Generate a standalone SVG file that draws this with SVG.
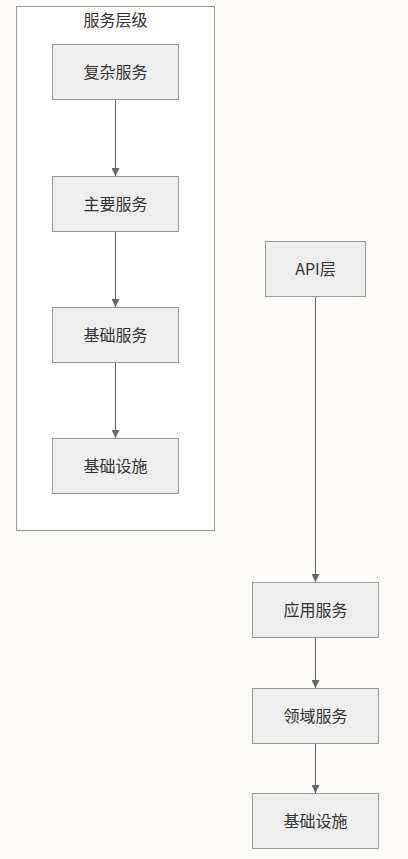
<svg xmlns="http://www.w3.org/2000/svg" width="408" height="859" viewBox="0 0 408 859">
<style>
.bg{fill:#fdfcf8}
.cluster{fill:#ffffff;stroke:#999999;stroke-width:1}
.node rect{fill:#eeeeee;stroke:#999999;stroke-width:1}
text{font-family:"Noto Sans CJK SC","Noto Sans",sans-serif;font-size:16px;fill:#333333;text-anchor:middle;dominant-baseline:central}
.edge{stroke:#666666;stroke-width:1;fill:none}
</style>
<defs>
<marker id="arrow" viewBox="0 0 10 10" refX="10" refY="5" markerWidth="8" markerHeight="8" markerUnits="userSpaceOnUse" orient="auto">
<path d="M0,0 L10,5 L0,10 z" fill="#666666"/>
</marker>
</defs>
<rect class="bg" x="0" y="0" width="408" height="859"/>
<g id="cluster-service">
<rect class="cluster" x="16.5" y="6.5" width="198" height="524"/>
<text x="115.5" y="18.5">服务层级</text>
</g>
<g id="connectors">
<line class="edge" x1="115.5" y1="99" x2="115.5" y2="176" marker-end="url(#arrow)"/>
<line class="edge" x1="115.5" y1="231" x2="115.5" y2="307" marker-end="url(#arrow)"/>
<line class="edge" x1="115.5" y1="362" x2="115.5" y2="438" marker-end="url(#arrow)"/>
<line class="edge" x1="315.5" y1="296" x2="315.5" y2="582" marker-end="url(#arrow)"/>
<line class="edge" x1="315.5" y1="637" x2="315.5" y2="688" marker-end="url(#arrow)"/>
<line class="edge" x1="315.5" y1="743" x2="315.5" y2="793" marker-end="url(#arrow)"/>
</g>
<g id="n-complex" class="node"><rect x="52.5" y="44.5" width="126" height="55"/><text x="115.5" y="71">复杂服务</text></g>
<g id="n-main" class="node"><rect x="52.5" y="176.5" width="126" height="55"/><text x="115.5" y="203">主要服务</text></g>
<g id="n-basic" class="node"><rect x="52.5" y="307.5" width="126" height="55"/><text x="115.5" y="334">基础服务</text></g>
<g id="n-infra1" class="node"><rect x="52.5" y="438.5" width="126" height="55"/><text x="115.5" y="465">基础设施</text></g>
<g id="n-api" class="node"><rect x="265.5" y="241.5" width="100" height="55"/><text x="315.5" y="268">API层</text></g>
<g id="n-app" class="node"><rect x="252.5" y="582.5" width="126" height="55"/><text x="315.5" y="609">应用服务</text></g>
<g id="n-domain" class="node"><rect x="252.5" y="688.5" width="126" height="55"/><text x="315.5" y="715">领域服务</text></g>
<g id="n-infra2" class="node"><rect x="252.5" y="793.5" width="126" height="55"/><text x="315.5" y="820">基础设施</text></g>
</svg>
